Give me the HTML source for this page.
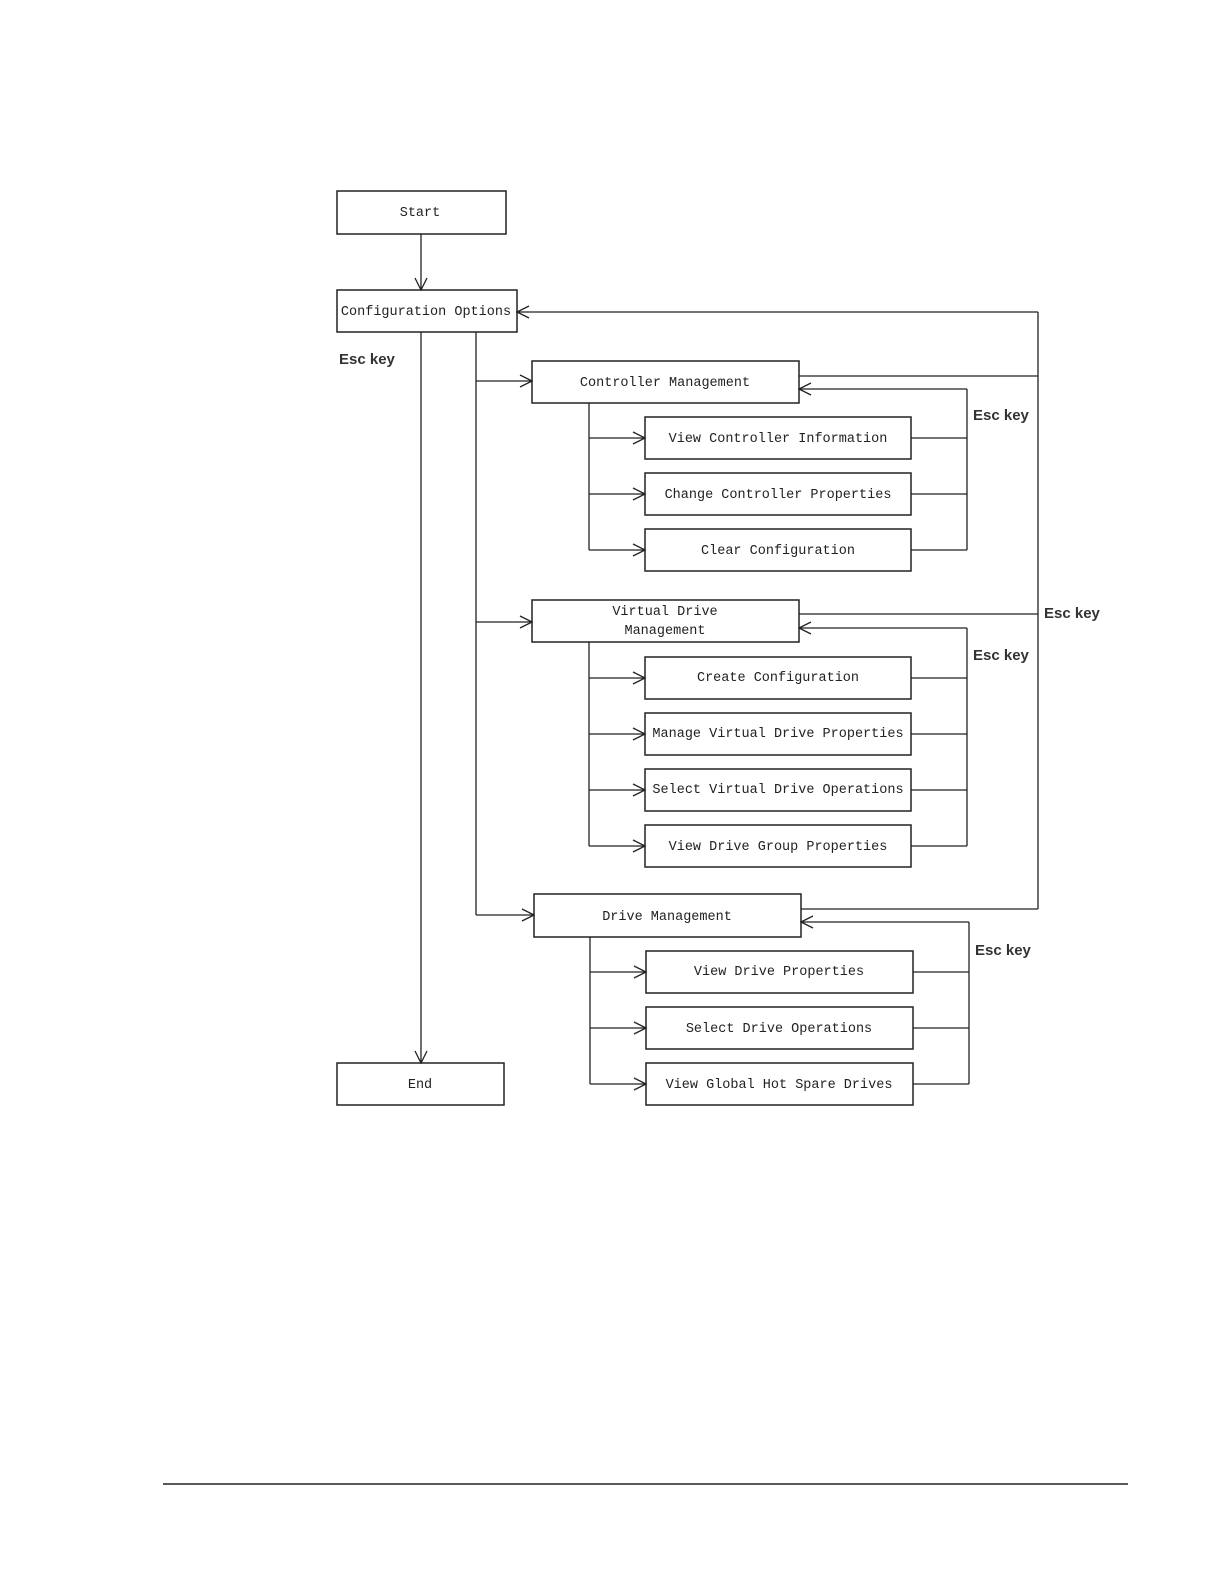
<!DOCTYPE html>
<html><head><meta charset="utf-8"><style>
html,body{margin:0;padding:0;background:#fff;}
svg{display:block;}
text{font-family:"Liberation Mono",monospace;font-size:13.5px;fill:#222;}
.e{font-family:"Liberation Sans",sans-serif;font-size:15px;font-weight:bold;fill:#333;}
</style></head><body>
<svg width="1224" height="1584" viewBox="0 0 1224 1584" xmlns="http://www.w3.org/2000/svg">
<defs>
<marker id="a" markerWidth="14" markerHeight="14" refX="13" refY="7" orient="auto" markerUnits="userSpaceOnUse">
<path d="M1,1 L13,7 L1,13" fill="none" stroke="#222" stroke-width="1.3"/>
</marker>
</defs>
<g fill="none" stroke="#222" stroke-width="1.5">
<rect x="337" y="191" width="169" height="43"/>
<rect x="337" y="290" width="180" height="42"/>
<rect x="337" y="1063" width="167" height="42"/>
<rect x="532" y="361" width="267" height="42"/>
<rect x="645" y="417" width="266" height="42"/>
<rect x="645" y="473" width="266" height="42"/>
<rect x="645" y="529" width="266" height="42"/>
<rect x="532" y="600" width="267" height="42"/>
<rect x="645" y="657" width="266" height="42"/>
<rect x="645" y="713" width="266" height="42"/>
<rect x="645" y="769" width="266" height="42"/>
<rect x="645" y="825" width="266" height="42"/>
<rect x="534" y="894" width="267" height="43"/>
<rect x="646" y="951" width="267" height="42"/>
<rect x="646" y="1007" width="267" height="42"/>
<rect x="646" y="1063" width="267" height="42"/>
</g>
<g fill="none" stroke="#222" stroke-width="1.3">
<line x1="421" y1="234" x2="421" y2="290" marker-end="url(#a)"/>
<line x1="421" y1="332" x2="421" y2="1063" marker-end="url(#a)"/>
<line x1="476" y1="332" x2="476" y2="915"/>
<line x1="476" y1="381" x2="532" y2="381" marker-end="url(#a)"/>
<line x1="476" y1="622" x2="532" y2="622" marker-end="url(#a)"/>
<line x1="476" y1="915" x2="534" y2="915" marker-end="url(#a)"/>
<line x1="1038" y1="312" x2="1038" y2="909"/>
<line x1="1038" y1="312" x2="517" y2="312" marker-end="url(#a)"/>
<line x1="799" y1="376" x2="1038" y2="376"/>
<line x1="799" y1="614" x2="1038" y2="614"/>
<line x1="801" y1="909" x2="1038" y2="909"/>
<!-- CM -->
<line x1="589" y1="403" x2="589" y2="550"/>
<line x1="589" y1="438" x2="645" y2="438" marker-end="url(#a)"/>
<line x1="589" y1="494" x2="645" y2="494" marker-end="url(#a)"/>
<line x1="589" y1="550" x2="645" y2="550" marker-end="url(#a)"/>
<line x1="911" y1="438" x2="967" y2="438"/>
<line x1="911" y1="494" x2="967" y2="494"/>
<line x1="911" y1="550" x2="967" y2="550"/>
<line x1="967" y1="389" x2="967" y2="550"/>
<line x1="967" y1="389" x2="799" y2="389" marker-end="url(#a)"/>
<!-- VDM -->
<line x1="589" y1="642" x2="589" y2="846"/>
<line x1="589" y1="678" x2="645" y2="678" marker-end="url(#a)"/>
<line x1="589" y1="734" x2="645" y2="734" marker-end="url(#a)"/>
<line x1="589" y1="790" x2="645" y2="790" marker-end="url(#a)"/>
<line x1="589" y1="846" x2="645" y2="846" marker-end="url(#a)"/>
<line x1="911" y1="678" x2="967" y2="678"/>
<line x1="911" y1="734" x2="967" y2="734"/>
<line x1="911" y1="790" x2="967" y2="790"/>
<line x1="911" y1="846" x2="967" y2="846"/>
<line x1="967" y1="628" x2="967" y2="846"/>
<line x1="967" y1="628" x2="799" y2="628" marker-end="url(#a)"/>
<!-- DM -->
<line x1="590" y1="937" x2="590" y2="1084"/>
<line x1="590" y1="972" x2="646" y2="972" marker-end="url(#a)"/>
<line x1="590" y1="1028" x2="646" y2="1028" marker-end="url(#a)"/>
<line x1="590" y1="1084" x2="646" y2="1084" marker-end="url(#a)"/>
<line x1="913" y1="972" x2="969" y2="972"/>
<line x1="913" y1="1028" x2="969" y2="1028"/>
<line x1="913" y1="1084" x2="969" y2="1084"/>
<line x1="969" y1="922" x2="969" y2="1084"/>
<line x1="969" y1="922" x2="801" y2="922" marker-end="url(#a)"/>
<line x1="163" y1="1484" x2="1128" y2="1484" stroke-width="1.5"/>
</g>
<g text-anchor="middle">
<text x="420" y="216">Start</text>
<text x="426" y="315">Configuration Options</text>
<text x="420" y="1088">End</text>
<text x="665" y="386">Controller Management</text>
<text x="778" y="442">View Controller Information</text>
<text x="778" y="498">Change Controller Properties</text>
<text x="778" y="554">Clear Configuration</text>
<text x="665" y="615">Virtual Drive</text>
<text x="665" y="634">Management</text>
<text x="778" y="681">Create Configuration</text>
<text x="778" y="737">Manage Virtual Drive Properties</text>
<text x="778" y="793">Select Virtual Drive Operations</text>
<text x="778" y="850">View Drive Group Properties</text>
<text x="667" y="920">Drive Management</text>
<text x="779" y="975">View Drive Properties</text>
<text x="779" y="1032">Select Drive Operations</text>
<text x="779" y="1088">View Global Hot Spare Drives</text>
</g>
<text class="e" x="339" y="364">Esc key</text>
<text class="e" x="973" y="420">Esc key</text>
<text class="e" x="1044" y="618">Esc key</text>
<text class="e" x="973" y="660">Esc key</text>
<text class="e" x="975" y="955">Esc key</text>
</svg>
</body></html>
